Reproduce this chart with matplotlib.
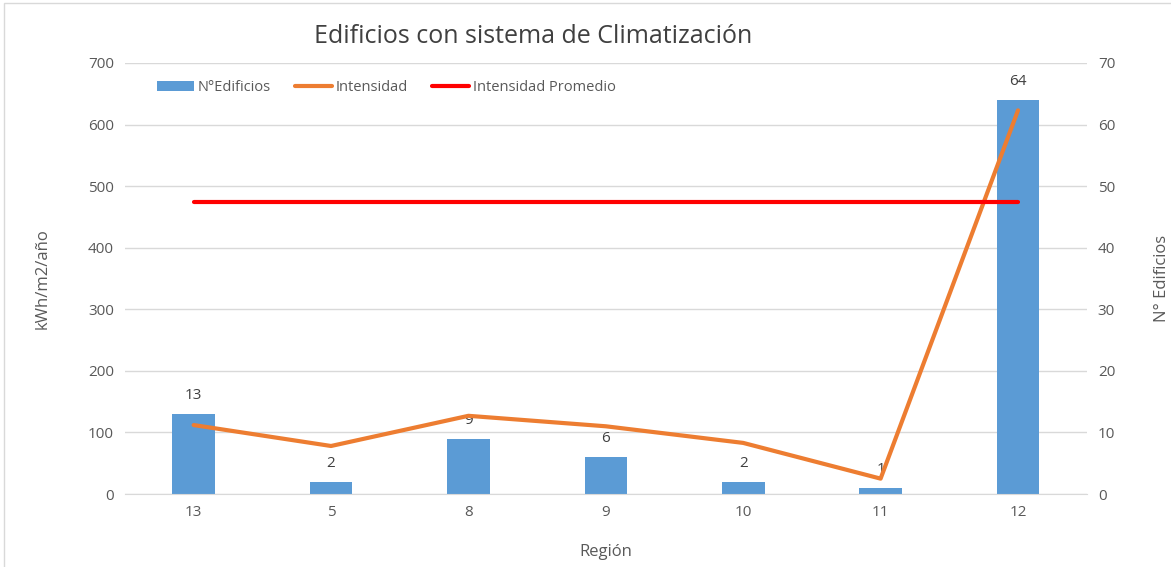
import matplotlib.pyplot as plt
import numpy as np

plt.rcParams['font.family'] = ['Open Sans', 'DejaVu Sans']

regiones = ["13", "5", "8", "9", "10", "11", "12"]
n_edificios = [13, 2, 9, 6, 2, 1, 64]
intensidad = [112, 78, 127, 110, 83, 25, 623]
intensidad_prom = [474, 474, 474, 474, 474, 474, 474]

gray = "#595959"
fig = plt.figure(figsize=(11.71, 5.67), dpi=100)
ax = fig.add_axes([0.1067, 0.1287, 0.8213, 0.7603])
ax2 = ax.twinx()

x = np.arange(len(regiones))
bars = ax2.bar(x, n_edificios, width=0.31, color="#5b9bd5", label="N°Edificios", zorder=1)
for xi, v in zip(x, n_edificios):
    ax2.text(xi, v + 1.8, str(v), ha="center", va="bottom", fontsize=11, color="#404040")

# lines on top of bars
ax.set_zorder(ax2.get_zorder() + 1)
ax.patch.set_visible(False)
l1, = ax.plot(x, intensidad, color="#ed7d31", lw=3, label="Intensidad", solid_capstyle="round")
l2, = ax.plot(x, intensidad_prom, color="#ff0000", lw=3, label="Intensidad Promedio", solid_capstyle="round")

ax.set_xlim(-0.5, len(regiones) - 0.5)
ax.set_ylim(0, 700)
ax2.set_ylim(0, 70)
ax.set_yticks(range(0, 701, 100))
ax2.set_yticks(range(0, 71, 10))
ax.set_xticks(x)
ax.set_xticklabels(regiones)

ax2.yaxis.grid(True, color="#d9d9d9", lw=1)
ax2.set_axisbelow(True)
for a in (ax, ax2):
    for s in a.spines.values():
        s.set_visible(False)
    a.tick_params(length=0, labelsize=11, colors=gray, pad=8)
ax.spines["bottom"].set_visible(True)
ax.spines["bottom"].set_color("#d9d9d9")

ax.set_xlabel("Región", fontsize=12, color=gray, labelpad=17)
ax.set_ylabel("kWh/m2/año", fontsize=12, color=gray, labelpad=27)
ax2.set_ylabel("N° Edificios", fontsize=12, color=gray, labelpad=28)
fig.text(0.455, 0.935, "Edificios con sistema de Climatización", ha="center", va="center",
         fontsize=18, color="#404040")

ax.legend(handles=[bars, l1, l2], loc="upper left", bbox_to_anchor=(0.02, 0.99), ncol=3,
          frameon=False, fontsize=10.5, labelcolor=gray, handlelength=2.5, columnspacing=1.7,
          handletextpad=0.25)

fig.add_artist(plt.Rectangle((0.003, -0.01), 1.2, 1.005, transform=fig.transFigure,
                             fill=False, edgecolor="#d9d9d9", lw=1))

fig.savefig("out.png", dpi=100)
